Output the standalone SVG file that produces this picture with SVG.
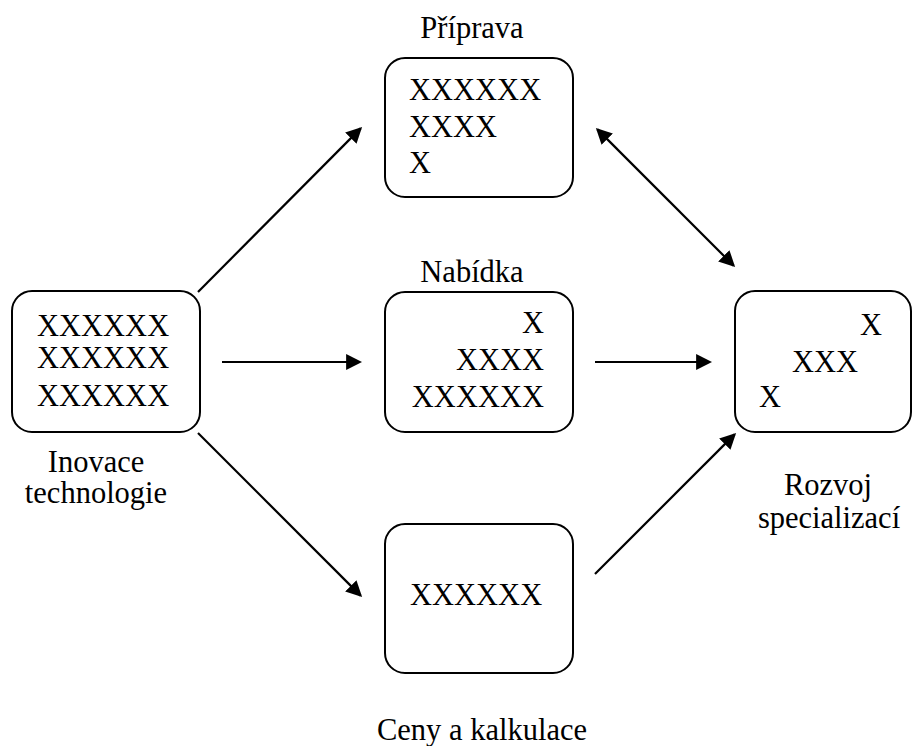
<svg xmlns="http://www.w3.org/2000/svg" width="914" height="746" viewBox="0 0 914 746">
  <style>
    .box { fill: #fff; stroke: #000; stroke-width: 2; }
    .t { font-size: 30.5px; fill: #000; }
    .mid { text-anchor: middle; }
    .end { text-anchor: end; }
    .conn line { stroke: #000; stroke-width: 2.2; fill: none; }
  </style>
  <defs>
    <marker id="arrow" markerUnits="userSpaceOnUse" markerWidth="16" markerHeight="16" viewBox="0 0 15 15" refX="13" refY="7.5" orient="auto-start-reverse">
      <path d="M0,0 L15,7.5 L0,15 z" fill="#000"/>
    </marker>
  </defs>
  <rect width="914" height="746" fill="#fff"/>

  <!-- connectors -->
  <g id="connectors" class="conn">
    <line x1="198" y1="292" x2="360.6" y2="128.4" marker-end="url(#arrow)"/>
    <line x1="222" y1="362" x2="360" y2="362" marker-end="url(#arrow)"/>
    <line x1="198" y1="433" x2="360.6" y2="595.6" marker-end="url(#arrow)"/>
    <line x1="597.4" y1="129.4" x2="733.6" y2="265.6" marker-start="url(#arrow)" marker-end="url(#arrow)"/>
    <line x1="595" y1="362" x2="710" y2="362" marker-end="url(#arrow)"/>
    <line x1="595" y1="574" x2="734.6" y2="434.4" marker-end="url(#arrow)"/>
  </g>

  <g font-family="'Liberation Serif', 'DejaVu Serif', serif">
    <!-- Inovace technologie -->
    <g id="inovace">
      <rect class="box" x="12" y="291" width="188" height="141" rx="20" ry="20"/>
      <text class="t" x="37" y="336">XXXXXX</text>
      <text class="t" x="37" y="368">XXXXXX</text>
      <text class="t" x="37" y="406">XXXXXX</text>
      <text class="t mid" x="96" y="472">Inovace</text>
      <text class="t mid" x="96" y="503">technologie</text>
    </g>

    <!-- Příprava -->
    <g id="priprava">
      <rect class="box" x="385" y="58" width="188" height="139" rx="20" ry="20"/>
      <text class="t mid" x="472" y="38">Příprava</text>
      <text class="t" x="409" y="100">XXXXXX</text>
      <text class="t" x="409" y="137">XXXX</text>
      <text class="t" x="409" y="173">X</text>
    </g>

    <!-- Nabídka -->
    <g id="nabidka">
      <rect class="box" x="385" y="292" width="188" height="140" rx="20" ry="20"/>
      <text class="t mid" x="472" y="282">Nabídka</text>
      <text class="t end" x="544" y="333">X</text>
      <text class="t end" x="544" y="370">XXXX</text>
      <text class="t end" x="544" y="407">XXXXXX</text>
    </g>

    <!-- Ceny a kalkulace -->
    <g id="ceny">
      <rect class="box" x="385" y="524" width="188" height="149" rx="20" ry="20"/>
      <text class="t" x="410" y="605">XXXXXX</text>
      <text class="t mid" x="482" y="740">Ceny a kalkulace</text>
    </g>

    <!-- Rozvoj specializací -->
    <g id="rozvoj">
      <rect class="box" x="735" y="291" width="176" height="141" rx="20" ry="20"/>
      <text class="t" x="860" y="335">X</text>
      <text class="t" x="792" y="372">XXX</text>
      <text class="t" x="759" y="407">X</text>
      <text class="t mid" x="828" y="495">Rozvoj</text>
      <text class="t mid" x="829" y="528">specializací</text>
    </g>
  </g>
</svg>
